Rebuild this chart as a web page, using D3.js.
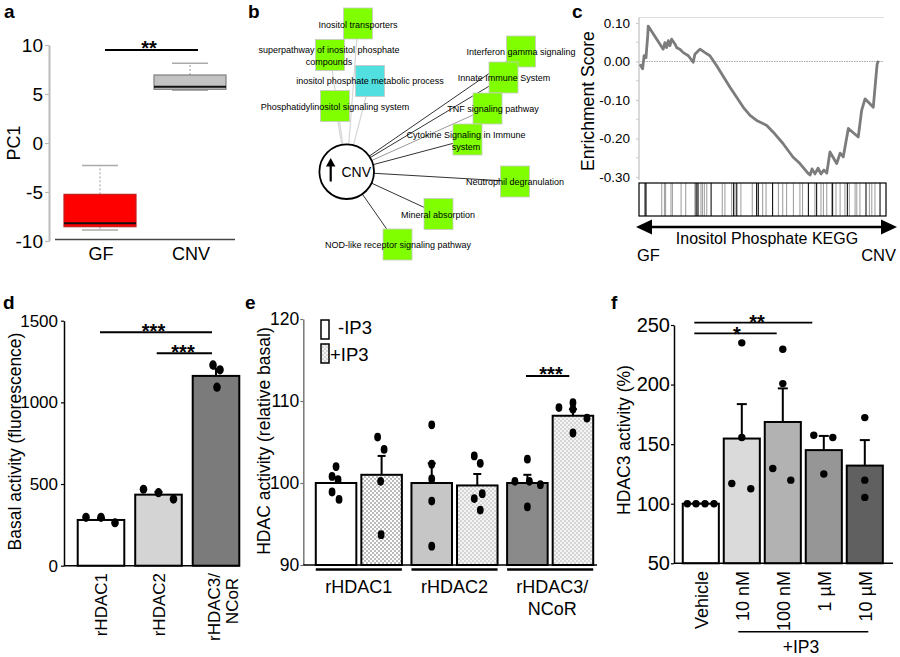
<!DOCTYPE html>
<html><head><meta charset="utf-8">
<script src="https://cdn.jsdelivr.net/npm/d3@7"></script>
<style>body{margin:0;background:#fff}svg{display:block}text{font-family:"Liberation Sans",Arial,Helvetica,sans-serif;fill:#000}</style>
</head><body><svg id="c" width="900" height="657"></svg>
<script>
// ================= DATA =================
// Panel a: PC1 box plot
const aGroups = ["GF", "CNV"];
const aMin = [-8.88, 5.38];
const aQ1 = [-8.54, 5.48];
const aMedian = [-8.2, 5.74];
const aQ3 = [-5.24, 6.94];
const aMax = [-2.3, 8.13];
const aTicks = [-10, -5, 0, 5, 10];

// Panel b: enrichment network
const bHub = "CNV";
const bTerms = [["Inositol transporters"], ["superpathway of inositol phosphate", "compounds"],
  ["inositol phosphate metabolic process"], ["Phosphatidylinositol signaling system"],
  ["Interferon gamma signaling"], ["Innate Immune System"], ["TNF signaling pathway"],
  ["Cytokine Signaling in Immune", "system"], ["Neutrophil degranulation"], ["Mineral absorption"],
  ["NOD-like receptor signaling pathway"]];
const bTermType = ["pathway", "pathway", "process", "pathway", "pathway", "pathway", "pathway", "pathway", "pathway", "pathway", "pathway"];
const bEdgeWeight = [1, 1, 1, 1, 3, 3, 2, 3, 3, 3, 3];

// Panel c: GSEA running enrichment score
const esRank = [0.4, 1.5, 2.1, 2.9, 3.2, 3.6, 3.8, 10.0, 10.7, 11.4, 12.1, 12.8, 13.5, 14.9, 15.6, 16.9, 18.3, 20.4, 22.4, 23.1, 24.5, 25.2, 27.3, 29.3, 30.7, 32.1, 37.6, 43.1, 45.9, 48.6, 52.8, 55.4, 59.5, 63.6, 66.5, 69.8, 70.7, 71.5, 72.7, 74.0, 75.2, 76.4, 77.6, 78.9, 81.7, 83.1, 84.4, 86.5, 90.6, 92.0, 93.4, 96.8, 97.9, 98.4, 98.9];
const esScore = [-0.007, -0.019, 0.015, 0.010, 0.036, 0.066, 0.092, 0.032, 0.049, 0.036, 0.054, 0.041, 0.058, 0.045, 0.036, 0.032, 0.023, 0.015, -0.002, 0.019, 0.028, 0.032, 0.023, 0.015, 0.002, -0.011, -0.067, -0.119, -0.140, -0.153, -0.166, -0.183, -0.213, -0.248, -0.265, -0.290, -0.295, -0.279, -0.292, -0.277, -0.292, -0.282, -0.290, -0.235, -0.265, -0.238, -0.248, -0.174, -0.196, -0.127, -0.097, -0.119, -0.041, -0.007, 0.002];
const hitRankDark = [2.5, 2.9, 23.6, 24.4, 29.8, 39.1, 40.4, 48.6, 49.3, 55.2, 70.0, 73.4, 80.0, 86.1, 93.8, 99.6];
const hitRankLight = [9.4, 10.5, 11.0, 13.2, 13.8, 17.4, 19.3, 23.1, 24.0, 25.6, 26.2, 27.0, 28.0, 34.4, 35.5, 38.3, 39.7, 42.1, 46.8, 51.1, 52.5, 57.6, 59.4, 61.0, 63.8, 66.5, 67.6, 72.7, 75.2, 76.2, 77.6, 79.6, 81.4, 83.1, 85.1, 86.9, 89.3, 90.0, 91.3, 95.2, 96.2, 97.5];
const cTicks = [0.1, 0, -0.1, -0.2, -0.3];

// Panel d: basal activity
const dCats = ["rHDAC1", "rHDAC2", "rHDAC3/NCoR"];
const dMean = [280, 435, 1162];
const dSemTop = [291, 452, 1207];
const dPoints = [[296, 296, 263], [468, 447, 408], [1229, 1199, 1093]];
const dTicks = [0, 500, 1000, 1500];

// Panel e: HDAC activity +/- IP3
const eGroups = ["rHDAC1", "rHDAC2", "rHDAC3/NCoR"];
const eSeries = ["-IP3", "+IP3"];
const eMean = [[100, 101], [100, 99.7], [100, 108.2]];
const eSemTop = [[100.7, 103.3], [102.4, 101.1], [101.0, 109.0]];
const ePoints = [[[102.0, 100.8, 100.4, 98.9, 98.0], [105.6, 104.1, 100.2, 93.7]],
                 [[107.1, 102.3, 100.5, 97.8, 92.3], [103.3, 102.4, 98.7, 98.1, 96.7]],
                 [[100.2, 102.9, 100.2, 99.8, 97.1], [109.2, 109.8, 109.0, 107.9, 106.1]]];
const eTicks = [90, 100, 110, 120];

// Panel f: HDAC3 activity dose response
const fCats = ["Vehicle", "10 nM", "100 nM", "1 µM", "10 µM"];
const fMean = [100, 154.7, 168.6, 145, 132];
const fSemTop = [100, 183.6, 196.8, 156.9, 153.4];
const fPoints = [[100, 100, 100, 100], [235, 155.6, 117, 112.6], [229.6, 200.8, 129.6, 119.8], [157.5, 155.6, 124.9], [172.3, 119.8, 105.3]];
const fTicks = [50, 100, 150, 200, 250];

// ================= LAYOUT (positions / styles) =================
const bNodePos = [[358, 23.5], [330, 55], [370, 81], [335, 106], [521, 51.5], [503.5, 77.5], [487.5, 108.5], [467.5, 139.5], [515, 181.5], [438.5, 214], [397.5, 244.5]];
const bLabelPos = [[358, 25], [329, 50], [370, 81], [335, 107], [521, 52], [504, 78], [493, 109], [466, 135], [515, 182], [438, 215], [398, 245]];
const dJitter = [[-15, 0, 14], [-15, 0, 15], [-3, 4, 1]];
const eJitter = [[[0, -4, 2, -4, 3], [-4, 2.5, -1, -0.5]], [[0, 0, 0, 0, 0], [-3, 3, 5, -3, 3]], [[-12.5, 0, 2, 13, 0], [-14, 0, 0, 14, 0]]];
const fJitter = [[-13.5, -4.8, 4.2, 13.2], [0, 0, -10, 9], [0, 0, -10, 8], [-10, 9, 0], [0, 0, 0]];

// ================= DRAW =================
const svg = d3.select("#c");
svg.append("rect").attr("width", 900).attr("height", 657).attr("fill", "#fff");
const defs = svg.append("defs");
function dotPattern(id, bg, dot) {
  const p = defs.append("pattern").attr("id", id).attr("width", 4).attr("height", 4).attr("patternUnits", "userSpaceOnUse");
  p.append("rect").attr("width", 4).attr("height", 4).attr("fill", bg);
  p.append("circle").attr("cx", 1).attr("cy", 1).attr("r", 0.75).attr("fill", dot);
  p.append("circle").attr("cx", 3).attr("cy", 3).attr("r", 0.75).attr("fill", dot);
}
dotPattern("dotsDark", "#fff", "#555");
dotPattern("dotsLight", "#f4f4f4", "#a8a8a8");

function txt(g, t, x, y, fs, anchor, extra) {
  const e = g.append("text").attr("x", x).attr("y", y).attr("font-size", fs).attr("text-anchor", anchor || "start").text(t);
  if (extra) extra(e);
  return e;
}
function panelLabel(t, x, y) { txt(svg, t, x, y, 19, "start", e => e.attr("font-weight", "bold")); }
function stars(g, t, x, yBase) { txt(g, t, x, yBase, 20, "middle", e => e.attr("font-weight", "bold")); }
function styleAxis(g, color, fs) {
  g.select(".domain").attr("stroke", color).attr("stroke-width", 1.5);
  g.selectAll(".tick line").attr("stroke", color).attr("stroke-width", 1.2);
  g.selectAll(".tick text").attr("font-size", fs).attr("fill", "#000").attr("font-family", '"Liberation Sans",Arial,sans-serif');
}
function rotLabel(g, t, x, y, fs, anchor) {
  return g.append("text").attr("transform", `translate(${x},${y}) rotate(-90)`).attr("font-size", fs).attr("text-anchor", anchor || "middle").text(t);
}

panelLabel("a", 4, 18); panelLabel("b", 248, 18); panelLabel("c", 572, 18);
panelLabel("d", 3, 309); panelLabel("e", 245, 309); panelLabel("f", 611, 309);

// ---------- Panel a ----------
{
  const g = svg.append("g");
  const y = d3.scaleLinear([-10, 10], [241, 45]);
  const x = d3.scaleBand(aGroups, [55, 235]);
  const ax = g.append("g").attr("transform", "translate(49,0)")
    .call(d3.axisLeft(y).tickValues(aTicks).tickSize(4).tickSizeOuter(0).tickPadding(2).tickFormat(d => String(d)));
  styleAxis(ax, "#bbb", 19);
  ax.select(".domain").attr("stroke-width", 2);
  g.append("line").attr("x1", 55).attr("x2", 235).attr("y1", 239.5).attr("y2", 239.5).attr("stroke", "#444").attr("stroke-width", 1.5);
  aGroups.forEach((k, i) => {
    const cx = x(k) + x.bandwidth() / 2, bw = x.bandwidth() * 0.8, cw = x.bandwidth() * 0.4;
    const fill = i === 0 ? "#ff0000" : "#c3c3c3", stroke = i === 0 ? "#c02020" : "#808080";
    g.append("line").attr("x1", cx).attr("x2", cx).attr("y1", y(aQ3[i])).attr("y2", y(aMax[i])).attr("stroke", "#999").attr("stroke-dasharray", "2,2");
    g.append("line").attr("x1", cx).attr("x2", cx).attr("y1", y(aQ1[i])).attr("y2", y(aMin[i])).attr("stroke", "#999").attr("stroke-dasharray", "2,2");
    [aMax[i], aMin[i]].forEach(v => g.append("line").attr("x1", cx - cw / 2).attr("x2", cx + cw / 2).attr("y1", y(v)).attr("y2", y(v)).attr("stroke", "#aaa").attr("stroke-width", 1.5));
    g.append("rect").attr("x", cx - bw / 2).attr("width", bw).attr("y", y(aQ3[i])).attr("height", y(aQ1[i]) - y(aQ3[i])).attr("fill", fill).attr("stroke", stroke).attr("stroke-width", 1.2);
    g.append("line").attr("x1", cx - bw / 2).attr("x2", cx + bw / 2).attr("y1", y(aMedian[i])).attr("y2", y(aMedian[i])).attr("stroke", "#111").attr("stroke-width", 2);
    txt(g, k, cx + 1, 260, 18, "middle");
  });
  g.append("line").attr("x1", 105).attr("x2", 198).attr("y1", 50).attr("y2", 50).attr("stroke", "#000").attr("stroke-width", 2);
  stars(g, "**", 149, 55);
  rotLabel(g, "PC1", 20, 143, 18);
}

// ---------- Panel b ----------
{
  const g = svg.append("g");
  const hub = [346.7, 171.7];
  const edgeColor = { 1: "#d6d6d6", 2: "#9a9a9a", 3: "#333" };
  bTerms.forEach((t, i) => {
    g.append("line").attr("x1", hub[0]).attr("y1", hub[1]).attr("x2", bNodePos[i][0]).attr("y2", bNodePos[i][1])
      .attr("stroke", edgeColor[bEdgeWeight[i]]).attr("stroke-width", bEdgeWeight[i] === 1 ? 1.2 : 1);
  });
  g.append("circle").attr("cx", hub[0]).attr("cy", hub[1]).attr("r", 27.3).attr("fill", "#fff").attr("stroke", "#000").attr("stroke-width", 1.8);
  g.append("line").attr("x1", 330.7).attr("x2", 330.7).attr("y1", 181.5).attr("y2", 164).attr("stroke", "#000").attr("stroke-width", 2.2);
  g.append("path").attr("d", "M330.7,158 L326,166.5 L335.4,166.5 Z").attr("fill", "#000");
  txt(g, bHub, 341.5, 177, 14, "start");
  bTerms.forEach((t, i) => {
    g.append("rect").attr("x", bNodePos[i][0] - 14.5).attr("y", bNodePos[i][1] - 15.5).attr("width", 29).attr("height", 31)
      .attr("fill", bTermType[i] === "process" ? "#52dfdf" : "#7fff00").attr("stroke", "#c8c8c8").attr("stroke-width", 0.8);
  });
  bTerms.forEach((t, i) => {
    t.forEach((line, j) => txt(g, line, bLabelPos[i][0], bLabelPos[i][1] + 3 + j * 11.5, 9, "middle", e => e.attr("fill", "#222")));
  });
}

// ---------- Panel c ----------
{
  const g = svg.append("g");
  const x = d3.scaleLinear([0, 100], [639, 881]);
  const y = d3.scaleLinear([-0.3, 0.1], [177, 23]);
  g.append("line").attr("x1", 639).attr("x2", 884).attr("y1", 17.5).attr("y2", 17.5).attr("stroke", "#ddd");
  g.append("line").attr("x1", 639).attr("x2", 884).attr("y1", y(0)).attr("y2", y(0)).attr("stroke", "#aaa").attr("stroke-dasharray", "1.5,1");
  const ax = g.append("g").attr("transform", "translate(639,0)")
    .call(d3.axisLeft(y).tickValues(cTicks).tickSize(3).tickSizeOuter(0).tickPadding(6).tickFormat(d => d.toFixed(2)));
  styleAxis(ax, "#ccc", 13.5);
  ax.select(".domain").attr("d", "M0,17.5V180");
  [0.05, -0.05, -0.15, -0.25].forEach(v => g.append("line").attr("x1", 636).attr("x2", 639).attr("y1", y(v)).attr("y2", y(v)).attr("stroke", "#ccc"));
  const pts = esRank.map((r, i) => [x(r), y(esScore[i])]);
  g.append("path").attr("d", d3.line()(pts)).attr("fill", "none").attr("stroke", "#7c7c7c").attr("stroke-width", 2.8).attr("stroke-linejoin", "round");
  rotLabel(g, "Enrichment Score", 594, 101, 17.6);
  hitRankLight.forEach(r => g.append("line").attr("x1", x(r)).attr("x2", x(r)).attr("y1", 183).attr("y2", 216).attr("stroke", "#9a9a9a").attr("stroke-width", 1));
  hitRankDark.forEach(r => g.append("line").attr("x1", x(r)).attr("x2", x(r)).attr("y1", 183).attr("y2", 216).attr("stroke", "#111").attr("stroke-width", 1.1));
  g.append("rect").attr("x", 639).attr("y", 183).attr("width", 247).attr("height", 33).attr("fill", "none").attr("stroke", "#000").attr("stroke-width", 1.2);
  g.append("line").attr("x1", 648).attr("x2", 885).attr("y1", 227).attr("y2", 227).attr("stroke", "#000").attr("stroke-width", 2.5);
  g.append("path").attr("d", "M636,227 L652,219.5 L652,234.5 Z").attr("fill", "#000");
  g.append("path").attr("d", "M897,227 L881,219.5 L881,234.5 Z").attr("fill", "#000");
  txt(g, "Inositol Phosphate KEGG", 767, 244, 16, "middle");
  txt(g, "GF", 637, 261, 16.5, "start");
  txt(g, "CNV", 896, 261, 16.5, "end");
}

// ---------- Panel d ----------
{
  const g = svg.append("g");
  const y = d3.scaleLinear([0, 1500], [565.7, 320.7]);
  const x = d3.scaleBand(dCats, [72.25, 244.75]).paddingInner(0.19).paddingOuter(0.095);
  const fills = ["#fff", "#d4d4d4", "#7b7b7b"];
  dCats.forEach((k, i) => {
    const cx = x(k) + x.bandwidth() / 2;
    g.append("line").attr("x1", cx).attr("x2", cx).attr("y1", y(dMean[i])).attr("y2", y(dSemTop[i])).attr("stroke", "#000").attr("stroke-width", 2);
    g.append("line").attr("x1", cx - 4).attr("x2", cx + 4).attr("y1", y(dSemTop[i])).attr("y2", y(dSemTop[i])).attr("stroke", "#000").attr("stroke-width", 2);
    g.append("rect").attr("x", x(k)).attr("width", x.bandwidth()).attr("y", y(dMean[i])).attr("height", y(0) - y(dMean[i]))
      .attr("fill", fills[i]).attr("stroke", "#000").attr("stroke-width", 2);
    dPoints[i].forEach((v, j) => g.append("ellipse").attr("cx", cx + dJitter[i][j]).attr("cy", y(v)).attr("rx", 3.8).attr("ry", 4.6).attr("fill", "#000"));
  });
  const ax = g.append("g").attr("transform", "translate(64,0)")
    .call(d3.axisLeft(y).tickValues(dTicks).tickSize(3).tickSizeOuter(0).tickPadding(3).tickFormat(d => String(d)));
  styleAxis(ax, "#000", 17);
  g.append("line").attr("x1", 64).attr("x2", 240).attr("y1", y(0)).attr("y2", y(0)).attr("stroke", "#000").attr("stroke-width", 1.5);
  const cx = k => x(k) + x.bandwidth() / 2;
  rotLabel(g, "rHDAC1", cx("rHDAC1") + 6, 573, 17, "end");
  rotLabel(g, "rHDAC2", cx("rHDAC2") + 6, 573, 17, "end");
  rotLabel(g, "rHDAC3/", cx("rHDAC3/NCoR") + 4, 573, 17, "end");
  rotLabel(g, "NCoR", cx("rHDAC3/NCoR") + 22, 601, 17, "middle");
  g.append("line").attr("x1", 100).attr("x2", 212).attr("y1", 332.3).attr("y2", 332.3).attr("stroke", "#000").attr("stroke-width", 2);
  stars(g, "***", 153.5, 337.5);
  g.append("line").attr("x1", 156.7).attr("x2", 212).attr("y1", 353.3).attr("y2", 353.3).attr("stroke", "#000").attr("stroke-width", 2);
  stars(g, "***", 183, 359);
  rotLabel(g, "Basal activity (fluorescence)", 21, 441.5, 17.5);
}

// ---------- Panel e ----------
{
  const g = svg.append("g");
  const y = d3.scaleLinear([90, 120], [565, 319]);
  const x0 = d3.scaleBand(eGroups, [311, 598]).paddingInner(0.1).paddingOuter(0.05);
  const x1 = d3.scaleBand(eSeries, [0, x0.bandwidth()]).paddingInner(0.11);
  const fills = [["#fff", "url(#dotsDark)"], ["#c6c6c6", "url(#dotsLight)"], ["#8a8a8a", "url(#dotsLight)"]];
  eGroups.forEach((gk, i) => {
    eSeries.forEach((sk, s) => {
      const bx = x0(gk) + x1(sk), cx = bx + x1.bandwidth() / 2;
      g.append("line").attr("x1", cx).attr("x2", cx).attr("y1", y(eMean[i][s])).attr("y2", y(eSemTop[i][s])).attr("stroke", "#000").attr("stroke-width", 2);
      g.append("line").attr("x1", cx - 4).attr("x2", cx + 4).attr("y1", y(eSemTop[i][s])).attr("y2", y(eSemTop[i][s])).attr("stroke", "#000").attr("stroke-width", 2);
      g.append("rect").attr("x", bx).attr("width", x1.bandwidth()).attr("y", y(eMean[i][s])).attr("height", y(90) - y(eMean[i][s]))
        .attr("fill", fills[i][s]).attr("stroke", "#000").attr("stroke-width", 2);
      ePoints[i][s].forEach((v, j) => g.append("ellipse").attr("cx", cx + eJitter[i][s][j]).attr("cy", y(v)).attr("rx", 3.4).attr("ry", 4.4).attr("fill", "#000"));
    });
    g.append("line").attr("x1", x0(gk)).attr("x2", x0(gk) + x0.bandwidth()).attr("y1", 569.5).attr("y2", 569.5).attr("stroke", "#000").attr("stroke-width", 2.5);
  });
  const ax = g.append("g").attr("transform", "translate(303.3,0)")
    .call(d3.axisLeft(y).tickValues(eTicks).tickSize(3).tickSizeOuter(0).tickPadding(1).tickFormat(d => String(d)));
  styleAxis(ax, "#777", 17.5);
  g.append("line").attr("x1", 303.3).attr("x2", 597).attr("y1", y(90)).attr("y2", y(90)).attr("stroke", "#000").attr("stroke-width", 1.5);
  const gc = k => x0(k) + x0.bandwidth() / 2;
  txt(g, "rHDAC1", gc("rHDAC1"), 593, 18, "middle");
  txt(g, "rHDAC2", gc("rHDAC2"), 593, 18, "middle");
  txt(g, "rHDAC3/", gc("rHDAC3/NCoR") + 2, 593, 18, "middle");
  txt(g, "NCoR", gc("rHDAC3/NCoR") + 2, 615, 18, "middle");
  // legend
  g.append("rect").attr("x", 321).attr("y", 320).attr("width", 8).attr("height", 19).attr("fill", "#fff").attr("stroke", "#000").attr("stroke-width", 1.5);
  g.append("rect").attr("x", 321).attr("y", 344).attr("width", 8).attr("height", 19).attr("fill", "url(#dotsLight)").attr("stroke", "#000").attr("stroke-width", 1.5);
  txt(g, eSeries[0], 338, 334, 18.5, "start");
  txt(g, eSeries[1], 330, 361, 18.5, "start");
  g.append("line").attr("x1", 526).attr("x2", 569.3).attr("y1", 376).attr("y2", 376).attr("stroke", "#000").attr("stroke-width", 2);
  stars(g, "***", 551, 380.5);
  rotLabel(g, "HDAC activity (relative basal)", 269.5, 441, 17.5);
}

// ---------- Panel f ----------
{
  const g = svg.append("g");
  const y = d3.scaleLinear([50, 250], [563.3, 325]);
  const x = d3.scaleBand(fCats, [680.3, 885.3]).paddingInner(0.12).paddingOuter(0.06);
  const fills = ["#fff", "#dadada", "#b2b2b2", "#969696", "#606060"];
  fCats.forEach((k, i) => {
    const cx = x(k) + x.bandwidth() / 2;
    g.append("line").attr("x1", cx).attr("x2", cx).attr("y1", y(fMean[i])).attr("y2", y(fSemTop[i])).attr("stroke", "#000").attr("stroke-width", 2);
    g.append("line").attr("x1", cx - 5).attr("x2", cx + 5).attr("y1", y(fSemTop[i])).attr("y2", y(fSemTop[i])).attr("stroke", "#000").attr("stroke-width", 2);
    g.append("rect").attr("x", x(k)).attr("width", x.bandwidth()).attr("y", y(fMean[i])).attr("height", y(50) - y(fMean[i]))
      .attr("fill", fills[i]).attr("stroke", "#000").attr("stroke-width", 2);
    fPoints[i].forEach((v, j) => g.append("circle").attr("cx", cx + fJitter[i][j]).attr("cy", y(v)).attr("r", 3.7).attr("fill", "#000"));
    rotLabel(g, k, cx + 7, 571, 18, "end");
  });
  const ax = g.append("g").attr("transform", "translate(674,0)")
    .call(d3.axisLeft(y).tickValues(fTicks).tickSize(3).tickSizeOuter(0).tickPadding(1).tickFormat(d => String(d)));
  styleAxis(ax, "#000", 20);
  g.append("line").attr("x1", 674).attr("x2", 893).attr("y1", y(50)).attr("y2", y(50)).attr("stroke", "#000").attr("stroke-width", 1.5);
  g.append("line").attr("x1", 694.3).attr("x2", 812.3).attr("y1", 322.7).attr("y2", 322.7).attr("stroke", "#000").attr("stroke-width", 1.8);
  stars(g, "**", 757, 329);
  g.append("line").attr("x1", 694.3).attr("x2", 776.7).attr("y1", 333.3).attr("y2", 333.3).attr("stroke", "#000").attr("stroke-width", 1.8);
  stars(g, "*", 737, 341);
  g.append("line").attr("x1", 738.3).attr("x2", 868.3).attr("y1", 631.7).attr("y2", 631.7).attr("stroke", "#000").attr("stroke-width", 1.5);
  txt(g, "+IP3", 801, 653, 17.5, "middle");
  rotLabel(g, "HDAC3 activity (%)", 630, 440, 17.5);
}
</script></body></html>
